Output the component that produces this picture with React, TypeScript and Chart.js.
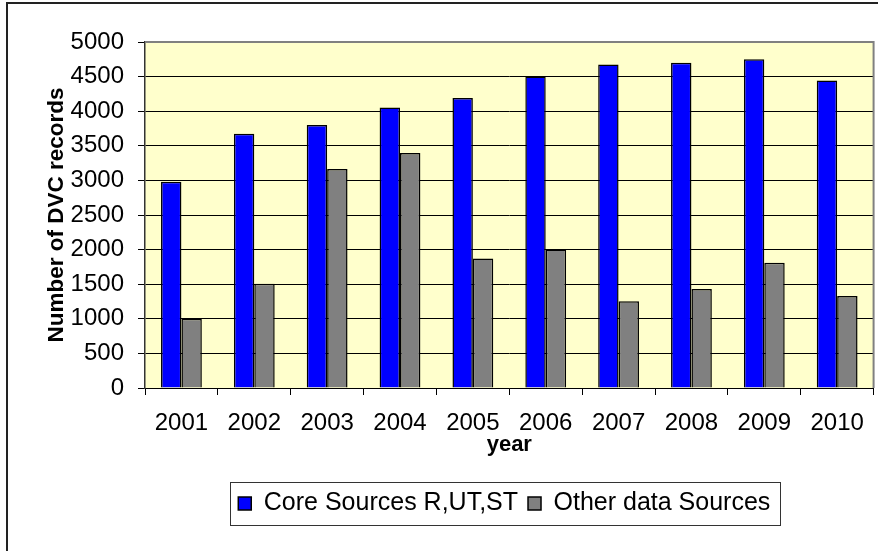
import React, { useEffect, useRef } from "react";
import { Chart, registerables } from "chart.js";

Chart.register(...registerables);

const years = ["2001", "2002", "2003", "2004", "2005", "2006", "2007", "2008", "2009", "2010"];
const coreSources = [2980, 3675, 3800, 4055, 4190, 4500, 4675, 4700, 4750, 4445];
const otherSources = [1000, 1505, 3165, 3395, 1870, 2000, 1255, 1430, 1810, 1330];
const seriesNames = ["Core Sources R,UT,ST", "Other data Sources"];
const yMin = 0;
const yMax = 5000;
const yStep = 500;

const FONT = "'Liberation Sans', Arial, Helvetica, sans-serif";

const decorPlugin = {
  id: "decor",
  afterLayout(chart: any) {
    const lg = chart.legend;
    if (lg) {
      lg.left -= 5;
      lg.right -= 5;
    }
  },
  beforeDraw(chart: any) {
    const { ctx, chartArea: a } = chart;
    ctx.save();
    ctx.fillStyle = "#ffffff";
    ctx.fillRect(0, 0, chart.width, chart.height);
    ctx.fillStyle = "#FFFFCC";
    ctx.fillRect(a.left, a.top, a.right - a.left, a.bottom - a.top);
    ctx.fillStyle = "#222222";
    ctx.fillRect(6, 2, chart.width - 6, 2);
    ctx.fillRect(6, 2, 2, chart.height - 2);
    ctx.restore();
  },
  beforeDatasetsDraw(chart: any) {
    const { ctx, chartArea: a } = chart;
    ctx.save();
    ctx.strokeStyle = "#808080";
    ctx.lineWidth = 2;
    ctx.beginPath();
    ctx.moveTo(a.left, a.top);
    ctx.lineTo(a.right, a.top);
    ctx.lineTo(a.right, a.bottom);
    ctx.stroke();
    ctx.restore();
  },
  afterDraw(chart: any) {
    const lg = chart.legend;
    if (!lg || !lg.legendHitBoxes || !lg.legendHitBoxes.length) return;
    const boxes = lg.legendHitBoxes;
    let left = Infinity, right = -Infinity, top = Infinity, bottom = -Infinity;
    for (const b of boxes) {
      left = Math.min(left, b.left);
      right = Math.max(right, b.left + b.width);
      top = Math.min(top, b.top);
      bottom = Math.max(bottom, b.top + b.height);
    }
    const cy = (top + bottom) / 2;
    const { ctx } = chart;
    ctx.save();
    ctx.strokeStyle = "#333333";
    ctx.lineWidth = 1;
    ctx.strokeRect(Math.round(left - 8) + 0.5, Math.round(cy - 21.5) + 0.5, Math.round(right - left + 18), 43);
    ctx.restore();
  },
};

export default function App() {
  const canvasRef = useRef<HTMLCanvasElement | null>(null);

  useEffect(() => {
    const canvas = canvasRef.current;
    if (!canvas) return;
    const chart = new Chart(canvas, {
      type: "bar",
      data: {
        labels: years,
        datasets: [
          {
            label: seriesNames[0],
            data: coreSources,
            backgroundColor: "#0000FF",
            borderColor: "#000000",
            borderWidth: 1.5,
            barPercentage: 1,
            categoryPercentage: 0.56,
          },
          {
            label: seriesNames[1],
            data: otherSources,
            backgroundColor: "#808080",
            borderColor: "#000000",
            borderWidth: 1.5,
            barPercentage: 1,
            categoryPercentage: 0.56,
          },
        ],
      },
      options: {
        responsive: false,
        animation: false,
        devicePixelRatio: 1,
        layout: { padding: { left: 0, top: 42, right: 3, bottom: 25 } },
        plugins: {
          tooltip: { enabled: false },
          legend: {
            position: "bottom",
            fullSize: false,
            labels: {
              boxWidth: 13,
              boxHeight: 13,
              padding: 10,
              color: "#000",
              font: { family: FONT, size: 25 },
            },
          },
        },
        scales: {
          x: {
            offset: true,
            grid: {
              display: true,
              drawOnChartArea: false,
              drawTicks: true,
              tickLength: 7,
              offset: true,
              color: "#000",
              lineWidth: 1,
            },
            border: { display: true, color: "#000", width: 1 },
            ticks: {
              color: "#000",
              padding: 14,
              maxRotation: 0,
              font: { family: FONT, size: 24 },
            },
            title: {
              display: true,
              text: "year",
              color: "#000",
              font: { family: FONT, size: 22, weight: "bold" },
              padding: { top: 0, bottom: 23 },
            },
            afterFit(scale: any) {
              scale.height = 93;
            },
          },
          y: {
            min: yMin,
            max: yMax,
            grid: {
              color: "#000",
              lineWidth: 1,
              tickLength: 7,
              drawTicks: true,
            },
            border: { display: true, color: "#333", width: 1.5 },
            ticks: {
              stepSize: yStep,
              color: "#000",
              padding: 14,
              font: { family: FONT, size: 24 },
              callback: (v: any) => String(v),
            },
            title: {
              display: true,
              text: "Number of DVC records",
              color: "#000",
              font: { family: FONT, size: 22.5, weight: "bold" },
              padding: { top: 43, bottom: 0 },
            },
            afterFit(scale: any) {
              scale.width = 145;
            },
          },
        },
      },
      plugins: [decorPlugin],
    } as any);
    return () => chart.destroy();
  }, []);

  return (
    <div style={{ position: "absolute", left: 0, top: 0, width: 878, height: 551, overflow: "hidden" }}>
      <canvas ref={canvasRef} width={878} height={551} style={{ display: "block", width: 878, height: 551 }} />
    </div>
  );
}
